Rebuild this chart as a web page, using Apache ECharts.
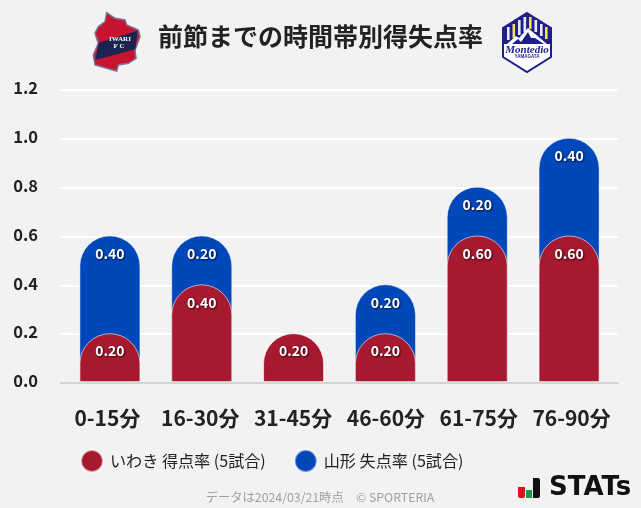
<!DOCTYPE html>
<html><head><meta charset="utf-8">
<style>html,body{margin:0;padding:0;background:#f2f2f2}#c{width:641px;height:508px}</style>
<script src="https://cdn.jsdelivr.net/npm/echarts@6/dist/echarts.min.js"></script>
</head><body><div id="c"></div>
<script>
const categories = ['0-15分','16-30分','31-45分','46-60分','61-75分','76-90分'];
const iwakiScored = [0.20,0.40,0.20,0.20,0.60,0.60];
const yamagataConceded = [0.40,0.20,0,0.20,0.20,0.40];
const yTicks = [0,0.2,0.4,0.6,0.8,1.0,1.2];
const seriesNames = ['いわき 得点率 (5試合)','山形 失点率 (5試合)'];
const titleText = '前節までの時間帯別得失点率';
const footerText = 'データは2024/03/21時点　© SPORTERIA';

const FONT = '"Noto Sans CJK JP","Noto Sans",sans-serif';
const RED = '#a6192e', BLUE = '#0047b9', NAVY='#1e1e8c', DARK='#222';
const stackTop = yamagataConceded.map((v,i)=> v ? +(v+iwakiScored[i]).toFixed(2) : null);
const labelStyle = {show:true,position:'insideTop',distance:11,color:'#fff',fontFamily:FONT,fontSize:14,fontWeight:'bold',
  textShadowColor:'rgba(0,0,0,.75)',textShadowBlur:2,textShadowOffsetX:1,textShadowOffsetY:1};
const poly=(pts,fill,extra)=>Object.assign({type:'polygon',shape:{points:pts},style:{fill}},extra||{});
const z1=p=>[60+p[0]/3,p[1]/3];
const shield=[[140,38],[165,55],[195,60],[200,75],[235,90],[240,110],[225,150],[228,175],[205,190],[175,195],[170,213],[140,205],[105,195],[100,165],[115,130],[105,100],[115,80],[135,65]].map(z1);
const band=[[233,92],[226,148],[106,180],[116,128]].map(z1);
const hex=[[527,13],[551,28],[551,57],[527,72],[503,57],[503,28]];
const hexTop=[[527,13],[551,28],[551,44],[503,44],[503,28]];
const stripes=[];
[[507,27,13],[512.5,24,14],[518,20,15],[523.5,17,15],[529,17,12],[534.5,20,12],[540,24,12],[545,27,12]].forEach((s,i)=>{
  stripes.push({type:'rect',shape:{x:s[0],y:s[1],width:2.6,height:s[2]},style:{fill:i%3==1?'#f0e060':'#e8e8f8'}});
});
const chart = echarts.init(document.getElementById('c'),null,{renderer:'canvas'});
chart.setOption({
  backgroundColor:'#f2f2f2',
  animation:false,
  grid:[{left:61,right:23,top:90,height:293},{left:64,width:551,top:89,height:293}],
  legend:{left:80,top:449,padding:0,itemWidth:22,itemHeight:22,itemGap:28,icon:'circle',data:seriesNames,selectedMode:false,
    textStyle:{fontFamily:FONT,fontSize:16.1,color:DARK,padding:[0,0,0,2]}},
  xAxis:[
    {type:'category',gridIndex:0,data:categories,z:5,axisTick:{show:false},axisLine:{lineStyle:{color:'#d4d4d4',width:2}},
     axisLabel:{margin:25,fontFamily:FONT,fontSize:21,fontWeight:'bold',color:DARK,interval:0}},
    {type:'category',gridIndex:1,data:categories,axisTick:{show:false},axisLine:{show:false},axisLabel:{show:false}}
  ],
  yAxis:[
    {type:'value',gridIndex:0,min:0,max:1.2,interval:0.2,axisLine:{show:false},axisTick:{show:false},
     splitLine:{lineStyle:{color:'#fff',width:2}},
     axisLabel:{margin:23,verticalAlign:'bottom',lineHeight:4,fontFamily:FONT,fontSize:16.5,fontWeight:'bold',color:DARK,formatter:v=>yTicks.find(t=>Math.abs(t-v)<1e-6).toFixed(1)}},
    {type:'value',gridIndex:1,min:0,max:1.2,interval:0.2,show:false}
  ],
  series:[
    {name:seriesNames[1],type:'bar',xAxisIndex:1,yAxisIndex:1,data:stackTop,barWidth:61,barGap:'-100%',z:2,
     itemStyle:{color:BLUE,borderRadius:[30,30,0,0],borderColor:'rgba(255,255,255,.45)',borderWidth:1},
     label:Object.assign({},labelStyle,{formatter:p=>yamagataConceded[p.dataIndex].toFixed(2)})},
    {name:seriesNames[0],type:'bar',xAxisIndex:1,yAxisIndex:1,data:iwakiScored,barWidth:61,barGap:'-100%',z:3,
     itemStyle:{color:RED,borderRadius:[30,30,0,0],borderColor:'rgba(255,255,255,.6)',borderWidth:1},
     label:Object.assign({},labelStyle,{formatter:p=>p.value.toFixed(2)})}
  ],
  graphic:[
    {type:'text',left:158,top:24,style:{text:titleText,fontFamily:FONT,fontSize:25,fontWeight:'bold',fill:DARK}},
    // Iwaki crest
    poly(shield,'#c8142e',{style:{fill:'#c8142e',stroke:'#77739a',lineWidth:1.5}}),
    poly(band,'#1b2450'),
    {type:'text',x:120,y:39,style:{text:'IWARI',align:'center',verticalAlign:'middle',fontFamily:'"Liberation Serif"',fontWeight:'bold',fontSize:7,fill:'#fff',letterSpacing:1.5}},
    {type:'text',x:119,y:46,style:{text:'F C',align:'center',verticalAlign:'middle',fontFamily:'"Liberation Serif"',fontWeight:'bold',fontSize:7,fill:'#fff'}},
    // Montedio crest
    poly(hex,'#fff',{style:{fill:'#fff',stroke:NAVY,lineWidth:2}}),
    poly(hexTop,NAVY),
    ...stripes,
    poly([[507,44],[516,36],[519,38],[528,28],[547,44]],'#fff'),
    poly([[512,44],[518,39],[521,42],[528,32],[531,38],[535,38],[544,44]],NAVY),
    {type:'text',x:527,y:50,style:{text:'Montedio',align:'center',verticalAlign:'middle',fontFamily:'"Liberation Serif"',fontStyle:'italic',fontWeight:'bold',fontSize:11,fill:NAVY}},
    {type:'text',x:527,y:57,style:{text:'YAMAGATA',align:'center',verticalAlign:'middle',fontFamily:'"Liberation Sans"',fontWeight:'bold',fontSize:4.5,fill:NAVY}},
    // Footer
    {type:'text',x:320,y:497,style:{text:footerText,align:'center',verticalAlign:'middle',fontFamily:FONT,fontSize:12.3,fill:'#a0a0a0'}},
    // STATs mark
    {type:'rect',shape:{x:518,y:487,width:7,height:11,r:[0,0,2,2]},style:{fill:'#d8141e'}},
    {type:'rect',shape:{x:526,y:490,width:6,height:8},style:{fill:'#1a9a4a'}},
    {type:'rect',shape:{x:533,y:478,width:7,height:20,r:[0,2,2,0]},style:{fill:'#111'}},
    {type:'text',x:549,y:488,style:{text:'STATs',verticalAlign:'middle',fontFamily:'"DejaVu Sans"',fontWeight:'bold',fontSize:26,fill:'#111'}}
  ]
});
</script></body></html>
